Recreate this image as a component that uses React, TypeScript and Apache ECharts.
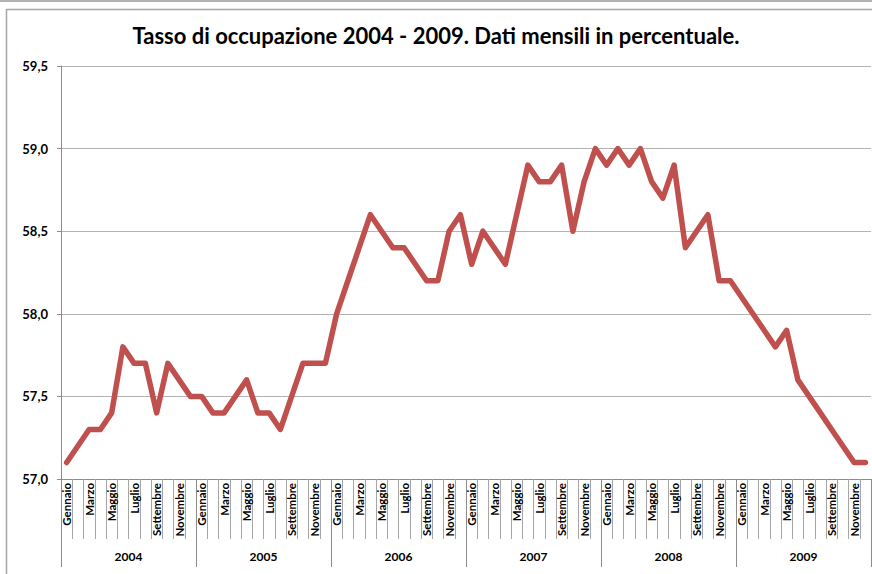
import React, { useEffect, useRef } from "react";
import * as echarts from "echarts";

const YEARS = ["2004", "2005", "2006", "2007", "2008", "2009"];
const MONTHS = [
  "Gennaio", "Febbraio", "Marzo", "Aprile", "Maggio", "Giugno",
  "Luglio", "Agosto", "Settembre", "Ottobre", "Novembre", "Dicembre",
];
const v2004 = [57.1, 57.2, 57.3, 57.3, 57.4, 57.8, 57.7, 57.7, 57.4, 57.7, 57.6, 57.5];
const v2005 = [57.5, 57.4, 57.4, 57.5, 57.6, 57.4, 57.4, 57.3, 57.5, 57.7, 57.7, 57.7];
const v2006 = [58.0, 58.2, 58.4, 58.6, 58.5, 58.4, 58.4, 58.3, 58.2, 58.2, 58.5, 58.6];
const v2007 = [58.3, 58.5, 58.4, 58.3, 58.6, 58.9, 58.8, 58.8, 58.9, 58.5, 58.8, 59.0];
const v2008 = [58.9, 59.0, 58.9, 59.0, 58.8, 58.7, 58.9, 58.4, 58.5, 58.6, 58.2, 58.2];
const v2009 = [58.1, 58.0, 57.9, 57.8, 57.9, 57.6, 57.5, 57.4, 57.3, 57.2, 57.1, 57.1];
const Y_MIN = 57.0;
const Y_MAX = 59.5;
const Y_STEP = 0.5;
const TITLE = "Tasso di occupazione 2004 - 2009. Dati mensili in percentuale.";

const VALUES = [...v2004, ...v2005, ...v2006, ...v2007, ...v2008, ...v2009];
const CATEGORIES = YEARS.flatMap((y) => MONTHS.map((m) => `${m}|${y}`));

export default function App() {
  const ref = useRef<HTMLDivElement>(null);
  useEffect(() => {
    document.body.style.margin = "0";
    const chart = echarts.init(ref.current!, null, { renderer: "svg" });
    const font = "Lato, 'Open Sans', sans-serif";
    chart.setOption({
      animation: false,
      backgroundColor: "#ffffff",
      textStyle: { fontFamily: font },
      title: {
        text: TITLE,
        left: "center",
        top: 19,
        textStyle: { fontSize: 22, fontWeight: "bold", color: "#000", fontFamily: font },
      },
      graphic: [
        { type: "line", shape: { x1: 0, y1: 1, x2: 872, y2: 1 }, style: { stroke: "#9a9a9a", lineWidth: 1.5 } },
        { type: "rect", shape: { x: 6.5, y: 9.5, width: 900, height: 600 }, style: { fill: "none", stroke: "#a6a6a6", lineWidth: 1.5 } },
      ],
      grid: { left: 61, right: 1, top: 66, bottom: 95, containLabel: false },
      xAxis: [
        {
          type: "category",
          data: CATEGORIES,
          boundaryGap: true,
          position: "bottom",
          axisLine: { show: true, lineStyle: { color: "#8c8c8c", width: 1 } },
          axisTick: { show: true, interval: 0, length: 60, lineStyle: { color: "#a6a6a6", width: 1 } },
          axisLabel: {
            interval: 0,
            rotate: 90,
            margin: 4,
            fontSize: 11.5,
            fontWeight: "bold",
            color: "#000",
            fontFamily: font,
            formatter: (v: string, i: number) => (i % 2 === 0 ? v.split("|")[0] : ""),
          },
          splitLine: { show: false },
        },
        {
          type: "category",
          data: YEARS,
          boundaryGap: true,
          position: "bottom",
          axisLine: { show: false },
          axisTick: { show: true, interval: 0, length: 88, lineStyle: { color: "#8c8c8c", width: 1 } },
          axisLabel: {
            interval: 0,
            margin: 71,
            fontSize: 12,
            fontWeight: "bold",
            color: "#000",
            fontFamily: font,
          },
          splitLine: { show: false },
        },
      ],
      yAxis: {
        type: "value",
        min: Y_MIN,
        max: Y_MAX,
        interval: Y_STEP,
        axisLine: { show: true, lineStyle: { color: "#8c8c8c", width: 1 } },
        axisTick: { show: true, length: 4, lineStyle: { color: "#8c8c8c" } },
        axisLabel: {
          margin: 13,
          fontSize: 13,
          fontWeight: "bold",
          color: "#000",
          fontFamily: font,
          formatter: (v: number) => v.toFixed(1).replace(".", ","),
        },
        splitLine: { show: true, lineStyle: { color: "#b3b3b3", width: 1 } },
      },
      series: [
        {
          type: "line",
          xAxisIndex: 0,
          data: VALUES,
          symbol: "none",
          lineStyle: { color: "#C0504D", width: 5.5, cap: "round", join: "round" },
          itemStyle: { color: "#C0504D" },
        },
      ],
    });
    return () => chart.dispose();
  }, []);
  return <div ref={ref} style={{ width: 872, height: 574 }} />;
}
